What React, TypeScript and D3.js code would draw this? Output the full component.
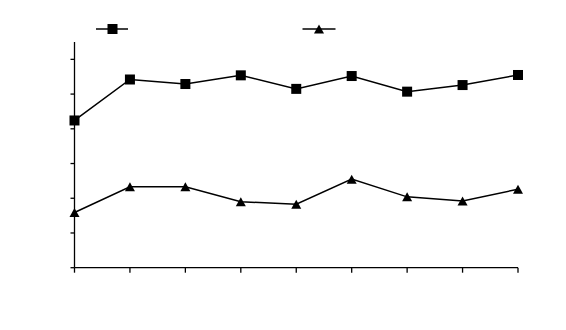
import React from "react";
import * as d3 from "d3";

const categories = ["1", "2", "3", "4", "5", "6", "7", "8", "9"];
const seriesSquare = [4.24, 5.42, 5.29, 5.54, 5.15, 5.52, 5.07, 5.26, 5.55];
const seriesTriangle = [1.59, 2.33, 2.33, 1.9, 1.83, 2.55, 2.04, 1.92, 2.26];
const yTicks = [0, 1, 2, 3, 4, 5, 6];

export default function App() {
  const W = 566, H = 330;
  const x0 = 74.5, x1 = 518, yBottom = 267.7, yTop = 42;
  const x = d3.scalePoint<string>().domain(categories).range([x0, x1]);
  const y = d3.scaleLinear().domain([0, 6.5]).range([yBottom, yTop]);
  const line = d3.line<number>().x((_, i) => x(categories[i])!).y((d) => y(d));
  const sq = 10;
  const tri = (cx: number, cy: number, w = 10, h = 9) =>
    `M${cx - w / 2},${cy + h / 2}L${cx},${cy - h / 2}L${cx + w / 2},${cy + h / 2}Z`;

  return (
    <svg width={W} height={H} style={{ position: "absolute", left: 0, top: 0, background: "#fff" }}>
      {/* legend */}
      <line x1={96} x2={128} y1={29} y2={29} stroke="#000" strokeWidth={1.5} />
      <rect x={112.5 - 5} y={29 - 5} width={10} height={10} fill="#000" />
      <line x1={302.5} x2={335.5} y1={29} y2={29} stroke="#000" strokeWidth={1.5} />
      <path d={tri(319, 29)} fill="#000" />

      {/* axes */}
      <line x1={x0} x2={x0} y1={yTop} y2={yBottom} stroke="#000" strokeWidth={1.3} />
      <line x1={x0} x2={x1} y1={yBottom} y2={yBottom} stroke="#000" strokeWidth={1.3} />
      {yTicks.map((t) => (
        <line key={"yt" + t} x1={x0 - 4} x2={x0} y1={y(t)} y2={y(t)} stroke="#000" strokeWidth={1.3} />
      ))}
      {categories.map((c) => (
        <line key={"xt" + c} x1={x(c)!} x2={x(c)!} y1={yBottom} y2={yBottom + 5} stroke="#000" strokeWidth={1.3} />
      ))}

      {/* series */}
      <path d={line(seriesSquare)!} fill="none" stroke="#000" strokeWidth={1.5} />
      <path d={line(seriesTriangle)!} fill="none" stroke="#000" strokeWidth={1.5} />
      {seriesSquare.map((v, i) => (
        <rect key={"s" + i} x={x(categories[i])! - sq / 2} y={y(v) - sq / 2} width={sq} height={sq} fill="#000" />
      ))}
      {seriesTriangle.map((v, i) => (
        <path key={"t" + i} d={tri(x(categories[i])!, y(v))} fill="#000" />
      ))}
    </svg>
  );
}
